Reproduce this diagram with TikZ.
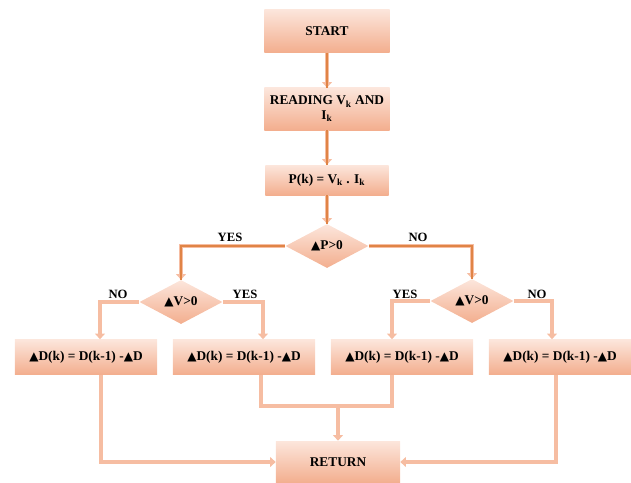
\documentclass[tikz,border=0pt]{standalone}
\usepackage{fontspec}
\setmainfont{Liberation Serif}
\newfontfamily\symfont{DejaVu Sans}
\usetikzlibrary{shapes.geometric,arrows.meta,calc}

\definecolor{boxtop}{HTML}{FCE6DC}
\definecolor{boxbot}{HTML}{F3AE8E}
\definecolor{flowlight}{HTML}{F6BDA2}
\definecolor{flowdark}{HTML}{E08446}

\newcommand{\dtri}{{\symfont\scalebox{0.9}{▲}}}

\tikzset{
  stepbox/.style={rectangle, top color=boxtop, bottom color=boxbot, draw=none,
    align=center, inner sep=1pt, font=\fontsize{9.5}{10.5}\selectfont\bfseries},
  testbox/.style={diamond, top color=boxtop, bottom color=boxbot, draw=none,
    inner sep=0pt, minimum width=2.075cm, minimum height=1.1cm,
    font=\fontsize{9.5}{10.5}\selectfont\bfseries},
  flow/.style={draw=flowlight, line width=3pt,
    -{Triangle[width=7pt,length=4pt,fill=flowlight]}},
  flowline/.style={draw=flowlight, line width=3pt},
  flowmain/.style={flow, postaction={draw=flowdark, line width=0.8pt, -}},
  answer/.style={font=\fontsize{9}{10}\selectfont\bfseries}
}

\begin{document}
\begin{tikzpicture}[x=0.025cm, y=-0.025cm]

\useasboundingbox (0,0) rectangle (631,482);

\begin{scope}
  \node[stepbox, minimum width=3.125cm, minimum height=1.075cm] (start) at (327,31) {START};
  \node[stepbox, minimum width=3.125cm, minimum height=1.05cm] (read) at (327,109) {READING V\textsubscript{k} AND\\I\textsubscript{k}};
  \node[stepbox, minimum width=3.075cm, minimum height=0.75cm] (pk) at (327,180) {P(k) = V\textsubscript{k} . I\textsubscript{k}};
  \node[testbox] (dp) at (327,246) {\dtri P>0};
  \node[testbox] (dvl) at (181,302) {\dtri V>0};
  \node[testbox] (dvr) at (472,301) {\dtri V>0};
\end{scope}

\begin{scope}
  \node[stepbox, minimum width=3.55cm, minimum height=0.875cm] (b1) at (86,357) {\dtri D(k) = D(k-1) -\dtri D};
  \node[stepbox, minimum width=3.55cm, minimum height=0.875cm] (b2) at (244,357) {\dtri D(k) = D(k-1) -\dtri D};
  \node[stepbox, minimum width=3.55cm, minimum height=0.875cm] (b3) at (402,357) {\dtri D(k) = D(k-1) -\dtri D};
  \node[stepbox, minimum width=3.55cm, minimum height=0.875cm] (b4) at (560,357) {\dtri D(k) = D(k-1) -\dtri D};
  \node[stepbox, minimum width=3.1cm, minimum height=1.05cm] (ret) at (338,462) {RETURN};
\end{scope}

\draw[flowmain] (start) -- (read);
\draw[flowmain] (read) -- (pk);
\draw[flowmain] (pk) -- (dp);
\draw[flowmain] (dp.west) -| (dvl.north);
\draw[flowmain] (dp.east) -| (dvr.north);
\node[answer] (yes0) at (230,237) {YES};
\node[answer] (no0) at (418,237) {NO};

\draw[flow] (dvl.west) -| ($(b1.north)+(14,0)$);
\draw[flow] (dvl.east) -| ($(b2.north)+(19,0)$);
\draw[flow] (dvr.west) -| ($(b3.north)+(-10,0)$);
\draw[flow] (dvr.east) -| ($(b4.north)+(-8,0)$);
\node[answer] (no1) at (118,294) {NO};
\node[answer] (yes1) at (245,294) {YES};
\node[answer] (yes2) at (405,294) {YES};
\node[answer] (no2) at (537,294) {NO};

\coordinate (mid) at (338,406);
\draw[flowline] ($(b2.south)+(17,0)$) |- (mid) -| ($(b3.south)+(-10,0)$);
\draw[flow] (mid) -- (ret.north);
\draw[flow] ($(b1.south)+(15,0)$) |- (ret.west);
\draw[flow] ($(b4.south)+(-4,0)$) |- (ret.east);

\end{tikzpicture}
\end{document}
